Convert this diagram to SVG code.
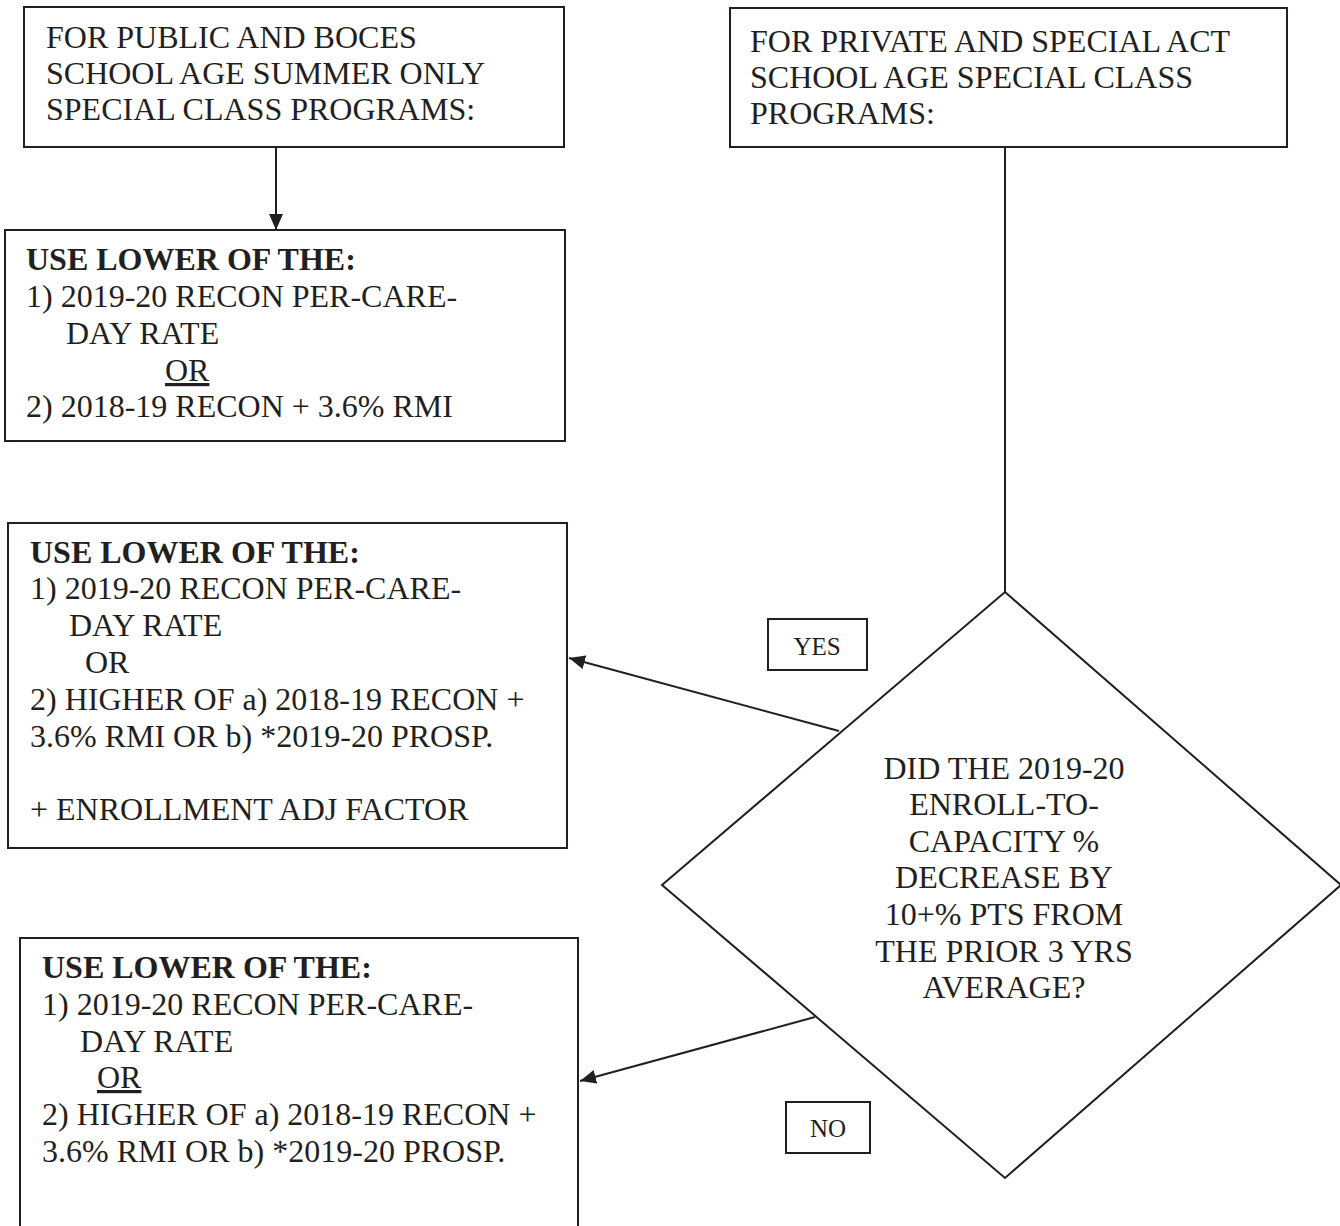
<svg xmlns="http://www.w3.org/2000/svg" width="1340" height="1226" viewBox="0 0 1340 1226">
<defs>
<style>
.box{fill:#fff;stroke:#231f20;stroke-width:2}
.t{font-family:"Liberation Serif","Times New Roman",serif;font-size:32px;fill:#231f20}
.b{font-weight:bold}
.s{font-family:"Liberation Serif","Times New Roman",serif;font-size:25px;fill:#231f20}
.c{text-anchor:middle}
.ln{stroke:#231f20;stroke-width:2;fill:none}
</style>
<marker id="ah" viewBox="0 0 16 14" refX="16" refY="7" markerWidth="16" markerHeight="14" markerUnits="userSpaceOnUse" orient="auto">
<path d="M0,0 L16,7 L0,14 z" fill="#231f20"/>
</marker>
</defs>
<rect width="1340" height="1226" fill="#fff"/>
<g id="connectors">
<line class="ln" x1="276" y1="147" x2="276" y2="230" marker-end="url(#ah)"/>
<line class="ln" x1="1005" y1="147" x2="1005" y2="592"/>
<line class="ln" x1="839" y1="731" x2="569" y2="658" marker-end="url(#ah)"/>
<line class="ln" x1="815" y1="1017" x2="580" y2="1081" marker-end="url(#ah)"/>
</g>
<g id="public">
<rect class="box" x="24" y="7" width="540" height="140"/>
<text class="t" x="46" y="48">FOR PUBLIC AND BOCES</text>
<text class="t" x="46" y="84">SCHOOL AGE SUMMER ONLY</text>
<text class="t" x="46" y="120">SPECIAL CLASS PROGRAMS:</text>
</g>
<g id="public-rate">
<rect class="box" x="5" y="230" width="560" height="211"/>
<text class="t b" x="26" y="270">USE LOWER OF THE:</text>
<text class="t" x="26" y="307">1) 2019-20 RECON PER-CARE-</text>
<text class="t" x="66" y="344">DAY RATE</text>
<text class="t" x="165" y="381" text-decoration="underline">OR</text>
<text class="t" x="26" y="417">2) 2018-19 RECON + 3.6% RMI</text>
</g>
<g id="private">
<rect class="box" x="730" y="8" width="557" height="139"/>
<text class="t" x="750" y="52">FOR PRIVATE AND SPECIAL ACT</text>
<text class="t" x="750" y="88">SCHOOL AGE SPECIAL CLASS</text>
<text class="t" x="750" y="124">PROGRAMS:</text>
</g>
<g id="yes-rate">
<rect class="box" x="8" y="523" width="559" height="325"/>
<text class="t b" x="30" y="563">USE LOWER OF THE:</text>
<text class="t" x="30" y="599">1) 2019-20 RECON PER-CARE-</text>
<text class="t" x="69" y="636">DAY RATE</text>
<text class="t" x="85" y="673">OR</text>
<text class="t" x="30" y="710">2) HIGHER OF a) 2018-19 RECON +</text>
<text class="t" x="30" y="747">3.6% RMI OR b) *2019-20 PROSP.</text>
<text class="t" x="30" y="820">+ ENROLLMENT ADJ FACTOR</text>
</g>
<g id="no-rate">
<rect class="box" x="20" y="938" width="558" height="300"/>
<text class="t b" x="42" y="978">USE LOWER OF THE:</text>
<text class="t" x="42" y="1015">1) 2019-20 RECON PER-CARE-</text>
<text class="t" x="80" y="1052">DAY RATE</text>
<text class="t" x="97" y="1088" text-decoration="underline">OR</text>
<text class="t" x="42" y="1125">2) HIGHER OF a) 2018-19 RECON +</text>
<text class="t" x="42" y="1162">3.6% RMI OR b) *2019-20 PROSP.</text>
</g>
<g id="decision">
<polygon class="box" points="1005,592 1341,885 1005,1178 662,885"/>
<text class="t c" x="1004" y="779">DID THE 2019-20</text>
<text class="t c" x="1004" y="815">ENROLL-TO-</text>
<text class="t c" x="1004" y="852">CAPACITY %</text>
<text class="t c" x="1004" y="888">DECREASE BY</text>
<text class="t c" x="1004" y="925">10+% PTS FROM</text>
<text class="t c" x="1004" y="962">THE PRIOR 3 YRS</text>
<text class="t c" x="1004" y="998">AVERAGE?</text>
</g>
<g id="yes-label">
<rect class="box" x="768" y="619" width="99" height="51"/>
<text class="s c" x="817" y="655">YES</text>
</g>
<g id="no-label">
<rect class="box" x="786" y="1102" width="84" height="51"/>
<text class="s c" x="828" y="1137">NO</text>
</g>
</svg>
